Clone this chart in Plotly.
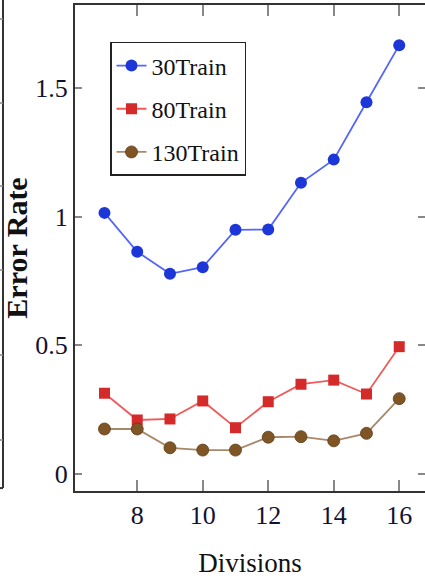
import plotly.graph_objects as go

divisions = [7, 8, 9, 10, 11, 12, 13, 14, 15, 16]
train30 = [1.015, 0.864, 0.778, 0.804, 0.949, 0.950, 1.132, 1.222, 1.445, 1.667]
train80 = [0.314, 0.210, 0.214, 0.284, 0.180, 0.281, 0.349, 0.365, 0.311, 0.495]
train130 = [0.175, 0.175, 0.102, 0.093, 0.093, 0.143, 0.145, 0.129, 0.158, 0.293]
series_names = ["30Train", "80Train", "130Train"]
x_ticks = [8, 10, 12, 14, 16]
y_ticks = [0, 0.5, 1, 1.5]
y_tick_labels = ["0", "0.5", "1", "1.5"]

FONT = "Liberation Serif, Times New Roman, serif"

fig = go.Figure()
styles = [
    dict(line=dict(color="#5566f5", width=1.8), marker=dict(symbol="circle", size=12, color="#1d36d8")),
    dict(line=dict(color="#f05a5a", width=1.8), marker=dict(symbol="square", size=11, color="#d42a2a")),
    dict(line=dict(color="#a8886a", width=1.8), marker=dict(symbol="circle", size=12, color="#7f5526",
                                                           line=dict(color="#5e3d18", width=0.8))),
]
for name, ys, st in zip(series_names, [train30, train80, train130], styles):
    fig.add_trace(go.Scatter(x=divisions, y=ys, mode="lines+markers", name=name,
                             legendgroup=name, line=st["line"], marker=st["marker"]))

# invisible trace on right axis for mirrored ticks
fig.add_trace(go.Scatter(x=[divisions[0]], y=[train30[0]], yaxis="y2", mode="markers",
                         marker=dict(opacity=0), showlegend=False, hoverinfo="skip"))

x_range = [6.1, 16.787]
y_range = [-0.066, 1.823]

fig.update_layout(
    width=425, height=582,
    margin=dict(l=75, r=0, t=5, b=91),
    paper_bgcolor="white", plot_bgcolor="white",
    font=dict(family=FONT, size=24, color="#111111"),
    showlegend=True,
    legend=dict(x=0.1, y=0.924, xanchor="left", yanchor="top",
                bgcolor="white", bordercolor="#222222", borderwidth=1.5,
                font=dict(family=FONT, size=24, color="#111111"),
                tracegroupgap=9, itemwidth=30),
    xaxis=dict(range=x_range, tickvals=x_ticks, ticks="inside", ticklen=11, tickwidth=1.5,
               tickcolor="#888888", showline=True, linecolor="#333333", linewidth=2,
               mirror="ticks", showgrid=False, zeroline=False,
               tickfont=dict(family=FONT, size=26, color="#111133"),
               title=dict(text="Divisions", font=dict(family=FONT, size=27, color="#111111"), standoff=24)),
    yaxis=dict(range=y_range, tickvals=y_ticks, ticktext=y_tick_labels, ticks="inside", ticklen=7,
               tickwidth=1.5, tickcolor="#888888", showline=True, linecolor="#333333", linewidth=2,
               showgrid=False, zeroline=False,
               tickfont=dict(family=FONT, size=26, color="#111133"),
               title=dict(text="<b>Error Rate</b>", font=dict(family=FONT, size=30, color="#111111"), standoff=6)),
    yaxis2=dict(range=y_range, tickvals=y_ticks, overlaying="y", side="right", anchor="x",
                ticks="inside", ticklen=7, tickwidth=1.5, tickcolor="#888888",
                showline=False, showgrid=False, zeroline=False, showticklabels=False),
)

# partial frame of a neighbouring panel on the far left
frame_x = (3 - 75) / 350
shapes = [
    dict(type="line", xref="paper", yref="paper", x0=frame_x, x1=frame_x, y0=0.006, y1=1.02,
         line=dict(color="#333333", width=2)),
    dict(type="line", xref="paper", yref="paper", x0=-0.22, x1=frame_x, y0=0.006, y1=0.006,
         line=dict(color="#333333", width=2)),
]
for py in [19, 103, 186, 270, 355, 440]:
    yy = (491 - py) / 486
    shapes.append(dict(type="line", xref="paper", yref="paper", x0=-0.22, x1=frame_x, y0=yy, y1=yy,
                       line=dict(color="#888888", width=1.5)))
fig.update_layout(shapes=shapes)

fig.write_html("out.html")
